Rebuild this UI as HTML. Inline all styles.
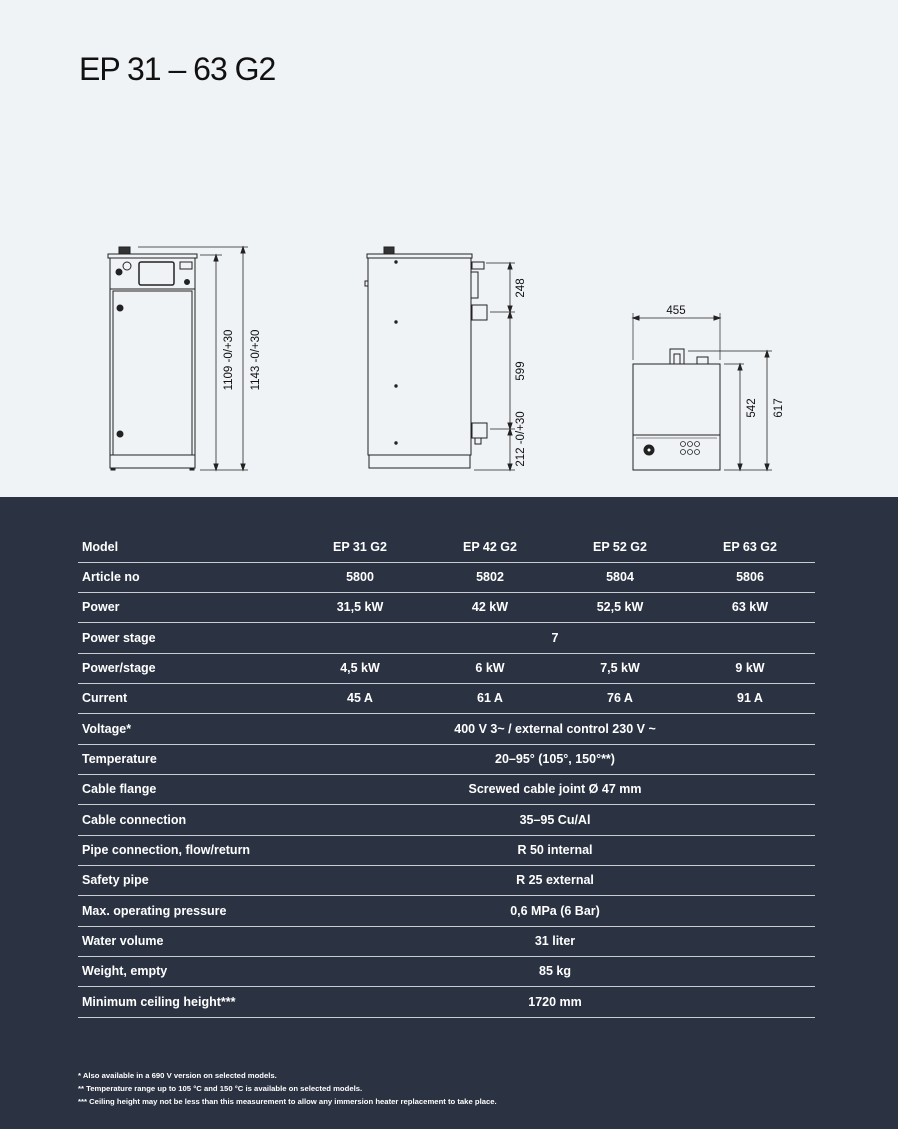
<!DOCTYPE html>
<html><head><meta charset="utf-8"><style>
html,body{margin:0;padding:0}
body{width:898px;height:1129px;position:relative;background:#f0f3f6;font-family:"Liberation Sans",sans-serif;overflow:hidden}
#dark{position:absolute;left:0;top:497px;width:898px;height:632px;background:#2b3343}
h1{position:absolute;left:79px;top:51px;margin:0;font-weight:normal;font-size:32px;color:#111;letter-spacing:-1px}
.row{position:absolute;left:78px;width:737px;height:30px;border-bottom:1.3px solid #c9ccd2;color:#fff;font-size:12.5px;font-weight:bold}
.row span{position:absolute;top:8px;white-space:nowrap}
.l{left:4px}
.c{transform:translateX(-50%)}
.fn{position:absolute;left:78px;color:#fff;font-size:7.7px;font-weight:bold;white-space:nowrap}
</style></head><body>
<h1>EP 31 – 63 G2</h1>
<svg width="898" height="497" style="position:absolute;left:0;top:0" fill="none" stroke="#222" stroke-width="1">
<rect x="119" y="247" width="11" height="7" fill="#333"/>
<rect x="108" y="254" width="89" height="4"/>
<rect x="110" y="258" width="85" height="31"/>
<rect x="139" y="262" width="35" height="23" rx="2" stroke-width="1.5"/>
<circle cx="127" cy="266" r="4"/>
<circle cx="119" cy="272" r="3" fill="#222"/>
<rect x="180" y="262" width="12" height="7"/>
<circle cx="187" cy="282" r="2.5" fill="#222"/>
<rect x="110" y="289" width="85" height="166"/>
<rect x="113" y="291" width="79" height="164"/>
<circle cx="120" cy="308" r="3" fill="#222"/>
<circle cx="120" cy="434" r="3" fill="#222"/>
<rect x="110" y="455" width="85" height="13"/>
<rect x="111" y="468" width="4" height="2" fill="#222"/><rect x="190" y="468" width="4" height="2" fill="#222"/>
<line x1="138" y1="247" x2="248" y2="247" stroke-width="0.7"/>
<line x1="200" y1="470" x2="248" y2="470" stroke-width="0.7"/>
<line x1="200" y1="255" x2="222" y2="255" stroke-width="0.7"/>
<line x1="216" y1="255" x2="216" y2="470" stroke-width="0.8"/>
<line x1="243" y1="247" x2="243" y2="470" stroke-width="0.8"/>
<path d="M216 255l-2 6h4zM216 470l-2-6h4zM243 247l-2 6h4zM243 470l-2-6h4z" fill="#222"/>
<rect x="384" y="247" width="10" height="7" fill="#333"/>
<rect x="367" y="254" width="105" height="4"/>
<rect x="368" y="258" width="103" height="197"/>
<rect x="369" y="455" width="101" height="13"/>
<rect x="472" y="262" width="12" height="7"/>
<rect x="471" y="272" width="7" height="26"/>
<rect x="472" y="305" width="15" height="15"/>
<rect x="472" y="423" width="15" height="15"/>
<rect x="475" y="438" width="6" height="6"/>
<circle cx="396" cy="262" r="1.2" fill="#222"/><circle cx="396" cy="322" r="1.2" fill="#222"/><circle cx="396" cy="386" r="1.2" fill="#222"/><circle cx="396" cy="443" r="1.2" fill="#222"/>
<rect x="365" y="281" width="3" height="5"/>
<g stroke-width="0.7"><line x1="486" y1="263" x2="515" y2="263"/><line x1="490" y1="312" x2="515" y2="312"/><line x1="490" y1="429" x2="515" y2="429"/><line x1="474" y1="470" x2="515" y2="470"/></g>
<line x1="510" y1="263" x2="510" y2="470" stroke-width="0.8"/>
<path d="M510 263l-2 6h4zM510 312l-2-6h4zM510 312l-2 6h4zM510 429l-2-6h4zM510 429l-2 6h4zM510 470l-2-6h4z" fill="#222"/>
<rect x="633" y="364" width="87" height="106"/>
<line x1="633" y1="435" x2="720" y2="435"/>
<line x1="636" y1="438" x2="717" y2="438" stroke-width="0.6"/>
<rect x="670" y="349" width="14" height="15"/>
<rect x="674" y="354" width="6" height="10"/>
<rect x="697" y="357" width="11" height="7"/>
<circle cx="649" cy="450" r="5" fill="#222"/><circle cx="649" cy="450" r="1.5" fill="#fff" stroke="none"/>
<g stroke-width="0.8"><circle cx="683" cy="444" r="2.5"/><circle cx="690" cy="444" r="2.5"/><circle cx="697" cy="444" r="2.5"/><circle cx="683" cy="452" r="2.5"/><circle cx="690" cy="452" r="2.5"/><circle cx="697" cy="452" r="2.5"/></g>
<g stroke-width="0.7"><line x1="633" y1="313" x2="633" y2="360"/><line x1="720" y1="313" x2="720" y2="360"/><line x1="633" y1="318" x2="720" y2="318"/>
<line x1="688" y1="351" x2="772" y2="351"/><line x1="724" y1="364" x2="744" y2="364"/><line x1="724" y1="470" x2="772" y2="470"/></g>
<line x1="740" y1="364" x2="740" y2="470" stroke-width="0.8"/>
<line x1="767" y1="351" x2="767" y2="470" stroke-width="0.8"/>
<path d="M633 318l6-2v4zM720 318l-6-2v4zM740 364l-2 6h4zM740 470l-2-6h4zM767 351l-2 6h4zM767 470l-2-6h4z" fill="#222"/>
<g fill="#111" stroke="none" font-family="Liberation Sans" font-size="11.5">
<text x="676" y="314" text-anchor="middle">455</text>
<text transform="translate(755,408) rotate(-90)" text-anchor="middle">542</text>
<text transform="translate(782,408) rotate(-90)" text-anchor="middle">617</text>
<text transform="translate(232,360) rotate(-90)" text-anchor="middle">1109 -0/+30</text>
<text transform="translate(259,360) rotate(-90)" text-anchor="middle">1143 -0/+30</text>
<text transform="translate(524,288) rotate(-90)" text-anchor="middle">248</text>
<text transform="translate(524,371) rotate(-90)" text-anchor="middle">599</text>
<text transform="translate(524,439) rotate(-90)" text-anchor="middle">212 -0/+30</text>
</g>
</svg>
<div id="dark"></div>
<div class="row" style="top:532px"><span class="l">Model</span><span class="c" style="left:282px">EP 31 G2</span><span class="c" style="left:412px">EP 42 G2</span><span class="c" style="left:542px">EP 52 G2</span><span class="c" style="left:672px">EP 63 G2</span></div>
<div class="row" style="top:562px"><span class="l">Article no</span><span class="c" style="left:282px">5800</span><span class="c" style="left:412px">5802</span><span class="c" style="left:542px">5804</span><span class="c" style="left:672px">5806</span></div>
<div class="row" style="top:592px"><span class="l">Power</span><span class="c" style="left:282px">31,5 kW</span><span class="c" style="left:412px">42 kW</span><span class="c" style="left:542px">52,5 kW</span><span class="c" style="left:672px">63 kW</span></div>
<div class="row" style="top:623px"><span class="l">Power stage</span><span class="c" style="left:477px">7</span></div>
<div class="row" style="top:653px"><span class="l">Power/stage</span><span class="c" style="left:282px">4,5 kW</span><span class="c" style="left:412px">6 kW</span><span class="c" style="left:542px">7,5 kW</span><span class="c" style="left:672px">9 kW</span></div>
<div class="row" style="top:683px"><span class="l">Current</span><span class="c" style="left:282px">45 A</span><span class="c" style="left:412px">61 A</span><span class="c" style="left:542px">76 A</span><span class="c" style="left:672px">91 A</span></div>
<div class="row" style="top:714px"><span class="l">Voltage*</span><span class="c" style="left:477px">400 V 3~ / external control 230 V ~</span></div>
<div class="row" style="top:744px"><span class="l">Temperature</span><span class="c" style="left:477px">20–95° (105°, 150°**)</span></div>
<div class="row" style="top:774px"><span class="l">Cable flange</span><span class="c" style="left:477px">Screwed cable joint Ø 47 mm</span></div>
<div class="row" style="top:805px"><span class="l">Cable connection</span><span class="c" style="left:477px">35–95 Cu/Al</span></div>
<div class="row" style="top:835px"><span class="l">Pipe connection, flow/return</span><span class="c" style="left:477px">R 50 internal</span></div>
<div class="row" style="top:865px"><span class="l">Safety pipe</span><span class="c" style="left:477px">R 25 external</span></div>
<div class="row" style="top:896px"><span class="l">Max. operating pressure</span><span class="c" style="left:477px">0,6 MPa (6 Bar)</span></div>
<div class="row" style="top:926px"><span class="l">Water volume</span><span class="c" style="left:477px">31 liter</span></div>
<div class="row" style="top:956px"><span class="l">Weight, empty</span><span class="c" style="left:477px">85 kg</span></div>
<div class="row" style="top:987px"><span class="l">Minimum ceiling height***</span><span class="c" style="left:477px">1720 mm</span></div>
<div class="fn" style="top:1071px">* Also available in a 690 V version on selected models.</div>
<div class="fn" style="top:1084px">** Temperature range up to 105 °C and 150 °C is available on selected models.</div>
<div class="fn" style="top:1097px">*** Ceiling height may not be less than this measurement to allow any immersion heater replacement to take place.</div>
</body></html>
